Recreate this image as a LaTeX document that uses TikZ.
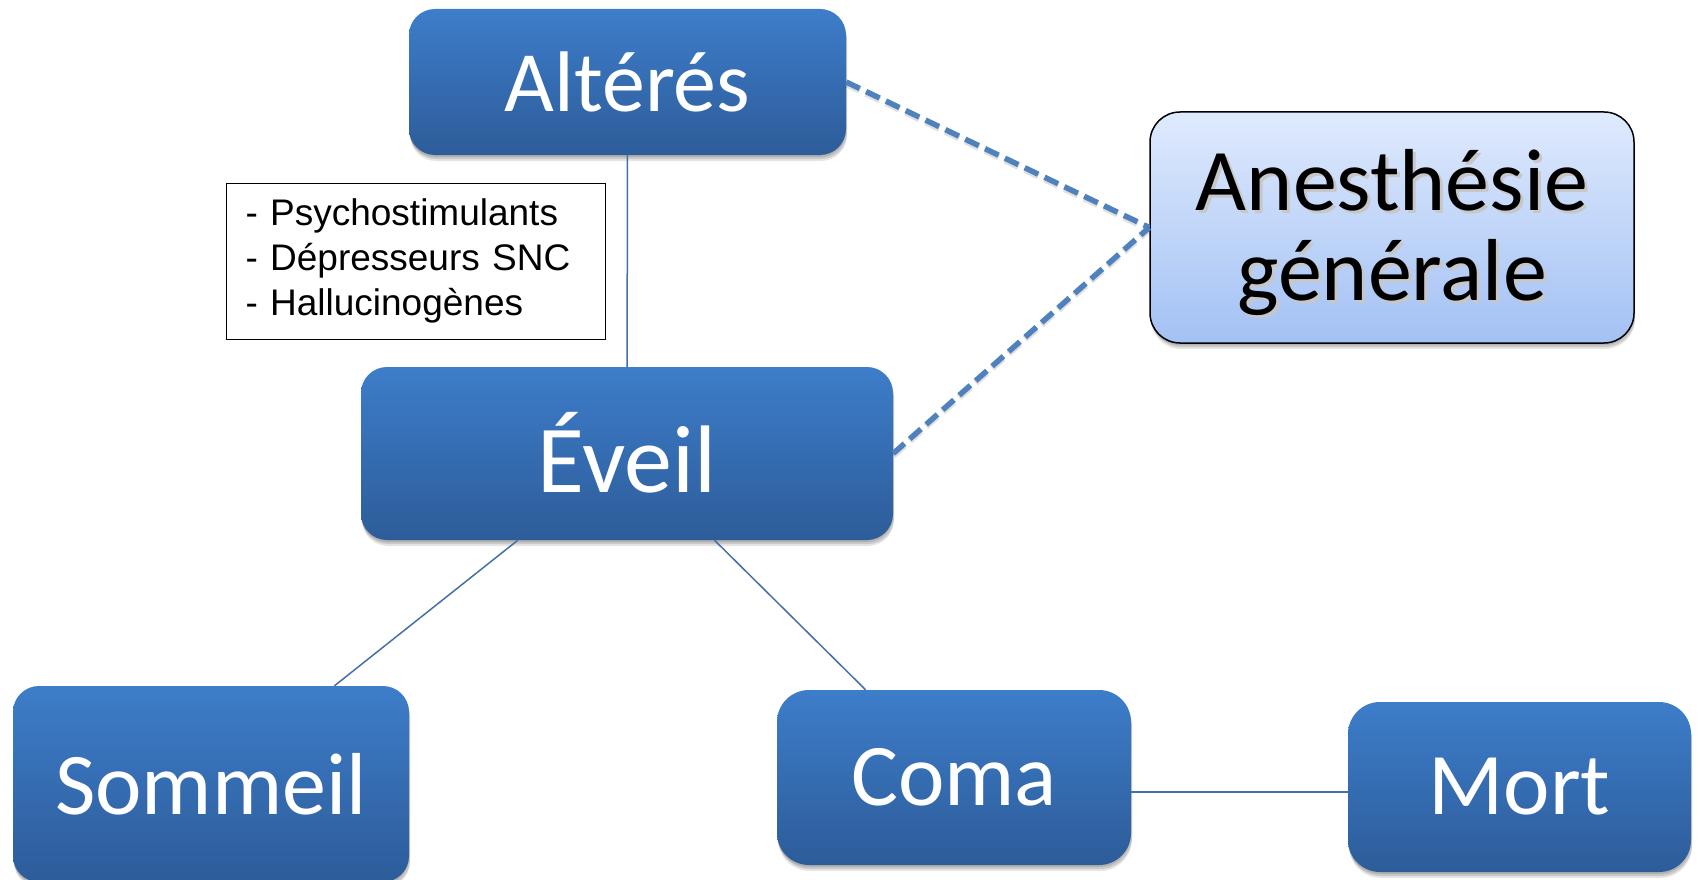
\documentclass[tikz,border=0pt]{standalone}
\usepackage{fontspec}
\setmainfont{Carlito}
\newfontfamily\arialf{Liberation Sans}
\usetikzlibrary{shadows}
\definecolor{btop}{HTML}{3D7DCA}
\definecolor{bbot}{HTML}{2D5C99}
\definecolor{atop}{HTML}{DFEAFD}
\definecolor{abot}{HTML}{A3C1F4}
\definecolor{lnc}{HTML}{4470A8}
\definecolor{dsh}{HTML}{4F81BD}
\newcommand\shtxt[1]{\leavevmode\rlap{\raisebox{-3pt}{\hspace{3pt}\textcolor{black!22}{#1}}}#1}
\tikzset{
  softshadow/.style={
    drop shadow={shadow xshift=0pt, shadow yshift=-2pt, opacity=0.12, fill=black},
    drop shadow={shadow xshift=1pt, shadow yshift=-4pt, opacity=0.12, fill=black},
    drop shadow={shadow xshift=1pt, shadow yshift=-6pt, opacity=0.10, fill=black}},
  bluebox/.style={rectangle, rounded corners=26pt, top color=btop, bottom color=bbot,
    draw=none, text=white, font=\fontsize{88}{88}\selectfont, inner sep=0pt, softshadow},
  anesbox/.style={rectangle, rounded corners=30pt, top color=atop, bottom color=abot,
    draw=black, line width=1.5pt, text=black, inner sep=0pt, align=center,
    font=\fontsize{88}{90}\selectfont, softshadow},
  listbox/.style={rectangle, draw=black, line width=1pt, fill=white, inner sep=0pt,
    font=\arialf\fontsize{37}{45}\selectfont, align=left, text=black},
  solidlink/.style={draw=lnc, line width=1.5pt},
  dashlink/.style={draw=dsh, line width=5.5pt, dash pattern=on 15pt off 7pt,
    preaction={draw=black, opacity=0.12, line width=6.5pt, dash pattern=on 15pt off 7pt, transform canvas={yshift=-2pt}}},
}
\begin{document}
\begin{tikzpicture}[x=1pt, y=-1pt]
\useasboundingbox (0,0) rectangle (1702,880);
\node[bluebox, minimum width=437pt, minimum height=146pt] (alt) at (627.5,82) {\fontsize{86}{86}\selectfont Altérés};
\node[anesbox, minimum width=484pt, minimum height=231pt] (anes) at (1392,227.5)
  {\rule{0pt}{74pt}\shtxt{Anesthésie}\\\shtxt{générale}};
\node[listbox, minimum width=379pt, minimum height=156pt, text width=340pt] (list) at (415.5,261)
  {- Psychostimulants\\- Dépresseurs SNC\\- Hallucinogènes};
\node[bluebox, minimum width=532pt, minimum height=173pt] (eveil) at (627,453.5) {\fontsize{96}{96}\selectfont\raisebox{3pt}{Éveil}};
\node[bluebox, minimum width=396pt, minimum height=196pt] (som) at (211,784) {Sommeil};
\node[bluebox, minimum width=354pt, minimum height=175pt, rounded corners=32pt] (coma) at (954,777.5) {Coma};
\node[bluebox, minimum width=343pt, minimum height=170pt, rounded corners=32pt] (mort) at (1519.5,787) {Mort};
\path (mort.west) ++(0,5) coordinate (mw);
\draw[solidlink] (alt) -- (eveil);
\draw[solidlink] (eveil) -- (som);
\draw[solidlink] (eveil) -- (coma);
\draw[solidlink, line width=2pt] (coma.east |- mw) -- (mw);
\draw[dashlink] (alt.east) -- (anes.west);
\draw[dashlink] (eveil.east) -- (anes.west);
\end{tikzpicture}
\end{document}
